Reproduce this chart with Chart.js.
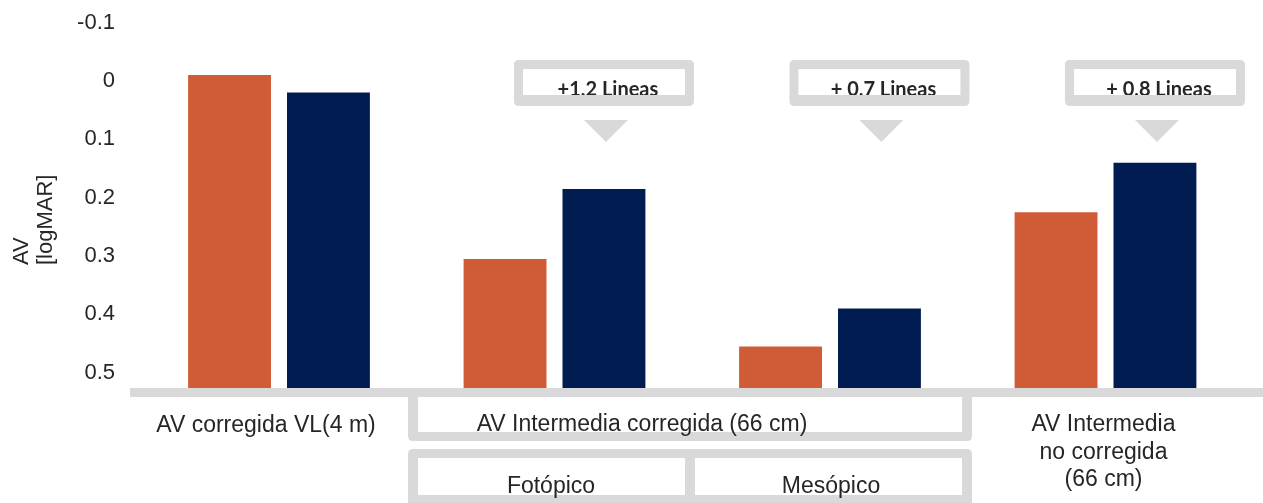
<!DOCTYPE html>
<html>
<head>
<meta charset="utf-8">
<script src="https://cdn.jsdelivr.net/npm/chart.js@4"></script>
<style>
  html, body { margin: 0; padding: 0; background: #ffffff; }
  #wrap { width: 1263px; height: 503px; position: relative; }
</style>
</head>
<body>
<div id="wrap"><canvas id="c"></canvas></div>
<script>
// ---- data ----
const categories = ['AV corregida VL(4 m)', 'Fotópico', 'Mesópico', 'AV Intermedia no corregida (66 cm)'];
const seriesOrange = [-0.01, 0.305, 0.455, 0.225];
const seriesNavy = [0.02, 0.185, 0.39, 0.14];
const yTickValues = [-0.1, 0, 0.1, 0.2, 0.3, 0.4, 0.5];
const yTickLabels = ['-0.1', '0', '0.1', '0.2', '0.3', '0.4', '0.5'];
const yMin = -0.1;
const yMax = 0.526;
const yTitleLines = ['AV', '[logMAR]'];
const groupLabel = 'AV Intermedia corregida (66 cm)';
const calloutLabels = ['', '+1,2 Lineas', '+ 0,7 Lineas', '+ 0,8 Lineas'];
const bottomLabels = [['AV corregida VL(4 m)'], ['Fotópico'], ['Mesópico'], ['AV Intermedia', 'no corregida', '(66 cm)']];

const ORANGE = '#D05B37';
const NAVY = '#001C51';
const GRAY = '#D9D9D9';
const TEXT = '#262626';
const FONT = '"Liberation Sans", Arial, sans-serif';

function rrect(ctx, x, y, w, h, r) {
  ctx.beginPath();
  ctx.moveTo(x + r, y);
  ctx.lineTo(x + w - r, y);
  ctx.quadraticCurveTo(x + w, y, x + w, y + r);
  ctx.lineTo(x + w, y + h - r);
  ctx.quadraticCurveTo(x + w, y + h, x + w - r, y + h);
  ctx.lineTo(x + r, y + h);
  ctx.quadraticCurveTo(x, y + h, x, y + h - r);
  ctx.lineTo(x, y + r);
  ctx.quadraticCurveTo(x, y, x + r, y);
  ctx.closePath();
}

const decor = {
  id: 'decor',
  afterDraw(chart) {
    const ctx = chart.ctx;
    const xs = chart.scales.x;
    const W = chart.width;
    const c = categories.map((_, i) => xs.getPixelForValue(i));
    const navyMeta = chart.getDatasetMeta(1);
    ctx.save();

    // axis line
    ctx.fillStyle = GRAY;
    ctx.fillRect(130, 388, W - 130, 9);

    // bracket box under groups 2-3
    const bl = 408, br = 972;
    ctx.fillStyle = GRAY;
    rrect(ctx, bl, 388, br - bl, 53, 5); ctx.fill();
    ctx.fillRect(bl, 388, br - bl, 9);
    ctx.fillStyle = '#ffffff';
    ctx.fillRect(bl + 10, 397, br - bl - 20, 35);

    // sub box
    ctx.fillStyle = GRAY;
    rrect(ctx, bl, 449, br - bl, 60, 5); ctx.fill();
    ctx.fillStyle = '#ffffff';
    const mid = 690;
    ctx.fillRect(bl + 10, 458, mid - 5 - (bl + 10), 37);
    ctx.fillRect(mid + 5, 458, br - 10 - (mid + 5), 37);

    // texts
    ctx.fillStyle = TEXT;
    ctx.font = '23px ' + FONT;
    ctx.textAlign = 'center';
    ctx.textBaseline = 'alphabetic';
    ctx.fillText(bottomLabels[0][0], 266, 432);
    ctx.fillText(groupLabel, 642, 431);
    ctx.fillText(bottomLabels[1][0], 551, 493);
    ctx.fillText(bottomLabels[2][0], 831, 493);
    const l4 = bottomLabels[3];
    const base4 = [431, 459, 486];
    l4.forEach((t, i) => ctx.fillText(t, c[3] - 2, base4[i]));

    // callouts
    for (let i = 0; i < calloutLabels.length; i++) {
      if (!calloutLabels[i]) continue;
      const cx = navyMeta.data[i].x;
      const x0 = cx - 90, w = 180;
      ctx.fillStyle = GRAY;
      rrect(ctx, x0, 60, w, 46, 5); ctx.fill();
      ctx.fillStyle = '#ffffff';
      ctx.fillRect(x0 + 9, 69, w - 18, 26);
      ctx.save();
      ctx.beginPath();
      ctx.rect(x0 + 9, 69, w - 18, 26);
      ctx.clip();
      ctx.fillStyle = TEXT;
      ctx.font = 'bold 20px Lato, "Open Sans", sans-serif';
      ctx.textAlign = 'center';
      ctx.textBaseline = 'alphabetic';
      ctx.fillText(calloutLabels[i], cx + 4, 96);
      ctx.restore();
      // triangle
      ctx.fillStyle = GRAY;
      ctx.beginPath();
      ctx.moveTo(cx - 20, 120);
      ctx.lineTo(cx + 24, 120);
      ctx.lineTo(cx + 2, 142);
      ctx.closePath();
      ctx.fill();
    }

    // y title
    ctx.save();
    ctx.fillStyle = TEXT;
    ctx.font = '22px ' + FONT;
    ctx.textAlign = 'left';
    ctx.textBaseline = 'middle';
    ctx.translate(0, 265);
    ctx.rotate(-Math.PI / 2);
    ctx.fillText(yTitleLines[0], 0, 22);
    ctx.fillText(yTitleLines[1], 0, 46);
    ctx.restore();

    ctx.restore();
  }
};

new Chart(document.getElementById('c'), {
  type: 'bar',
  data: {
    labels: categories,
    datasets: [
      { label: 'Serie 1', data: seriesOrange, backgroundColor: ORANGE, base: yMax, barPercentage: 0.838, categoryPercentage: 0.718 },
      { label: 'Serie 2', data: seriesNavy, backgroundColor: NAVY, base: yMax, barPercentage: 0.838, categoryPercentage: 0.718 }
    ]
  },
  options: {
    responsive: true,
    maintainAspectRatio: false,
    animation: false,
    layout: { padding: { top: 22.5, bottom: 115, left: 0, right: 19.75 } },
    plugins: { legend: { display: false }, tooltip: { enabled: false } },
    scales: {
      x: { display: false },
      y: {
        reverse: true,
        min: yMin,
        max: yMax,
        grid: { display: false, drawTicks: true, tickLength: 26.25 },
        border: { display: false },
        afterBuildTicks: (s) => { s.ticks = yTickValues.map(v => ({ value: v })); },
        afterFit: (s) => { s.width = 141.25; },
        ticks: {
          padding: 0,
          color: TEXT,
          font: { family: FONT, size: 22 },
          callback: (v, i) => yTickLabels[i]
        }
      }
    }
  },
  plugins: [decor]
});
</script>
</body>
</html>
